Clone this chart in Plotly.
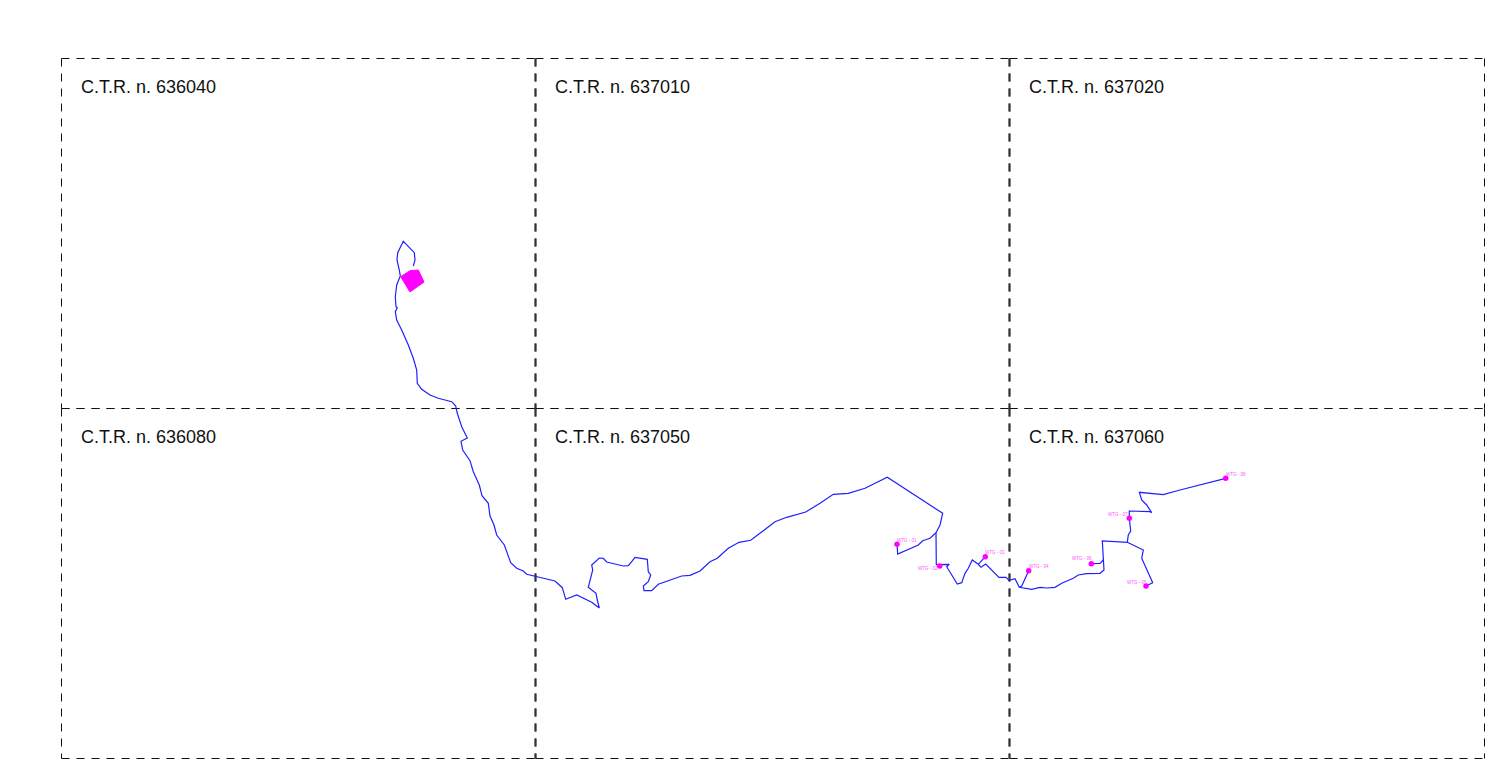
import plotly.graph_objects as go

# All coordinates are map units (sheet grid of the C.T.R. map)
grid_x = [61.5, 535.5, 1009.5, 1484.5]
grid_y = [58.5, 408.5, 758.5]
sheet_names = [["636040", "637010", "637020"], ["636080", "637050", "637060"]]

main_x = [413.3, 415, 414.3, 409.3, 403.3, 397.7, 397, 399.3, 400.3, 396.7, 395.3, 396, 397.3, 395.3, 396.7, 401.7, 408.3, 413.3, 416.7, 417.3, 421.7, 430, 438.3, 451.7, 455.7,
          457.3, 461.7, 467.3, 461, 462.7, 470, 473.3, 479.3, 482, 488.3, 490, 494, 496.7, 504.3, 510.7, 516.7, 523.3, 526.7, 555, 562.3, 565.7, 576.7, 591.7, 596.7, 599.3, 597.3, 596, 588.3, 592.7, 591.7, 599.3, 603.3, 606.7, 623.3, 628.3, 631.7, 635, 647.3, 648.3, 650.7, 648.3, 643.3, 644, 651.7, 658.3,
          681.7, 690, 700, 710, 717.3, 728.3, 739, 750.7, 763.3, 775, 786.7, 805.7, 820, 833.3, 848.3, 865, 887.3, 942.7, 940, 936]
main_y = [266, 260, 252.7, 247.3, 241.3, 252.7, 260, 270, 276, 285, 296.7, 306.7, 307.7, 311.7, 320, 330, 345, 358.3, 370, 383.3, 389.3, 395, 398.3, 401.7, 406,
          413.3, 426.7, 438, 441.3, 450, 460.7, 471.7, 485, 495.7, 503.3, 516, 525, 535, 545, 562.7, 568.3, 571, 574.3, 581, 587.7, 599.3, 595, 602.3, 606, 608, 600, 593.3, 587.3, 570, 565, 558, 558.3, 562, 566, 565.7, 561.7, 557.3, 559.3, 571.7, 575, 581.7, 586, 590.7, 590.7, 584.3,
          576, 575.3, 571, 561.7, 558.3, 548.3, 542.3, 540.3, 530.7, 521.7, 517.3, 512, 503.3, 494.3, 493.3, 488.3, 477.3, 513.3, 525, 532.7]

branch01_x = [936, 930, 922.7, 918.3, 897.7, 897]
branch01_y = [532.7, 538.3, 540.7, 545, 554, 544.3]

east_x = [936, 936.3, 949.3, 946.7, 957.3, 961.7, 965, 968.3, 972.3, 978.3, 981, 985.7, 999, 1006, 1009, 1015, 1019.3, 1031.7, 1040, 1046.7, 1055, 1061.7, 1073.3, 1078.3, 1086.7, 1100, 1104, 1103.3, 1102.3, 1127.3, 1128.3, 1130.7, 1129.3, 1129.3, 1150, 1151.7, 1146.7, 1141.7, 1139.3, 1163.3, 1180, 1225.7]
east_y = [532.7, 564.7, 564.3, 566.7, 584, 582.7, 573.3, 568.3, 560, 564.3, 567.3, 564, 577.3, 577.3, 580.3, 578.7, 587.3, 589.3, 587.3, 588, 587.3, 583.3, 578.3, 575, 573.7, 573.3, 570, 560, 541, 542.3, 535, 531, 518.3, 511, 511.7, 512.7, 505, 500, 492.3, 494.7, 490, 478.3]

branch03_x = [978.3, 985.3]
branch03_y = [564.3, 556.7]
branch04_x = [1019.3, 1021.7, 1028.7]
branch04_y = [587.3, 586, 570.7]
branch05_x = [1127.3, 1143.3, 1141.7, 1146.7, 1152.7, 1146]
branch05_y = [542.3, 550, 558.3, 570, 582.7, 586]
branch06_x = [1103.3, 1100, 1091.3]
branch06_y = [560, 563.3, 563.7]

station_x = [400.7, 410, 418.3, 424, 410]
station_y = [276.7, 270.7, 270, 282, 292]

wtg_names = ["WTG - 01", "WTG - 02", "WTG - 03", "WTG - 04", "WTG - 05", "WTG - 06", "WTG - 07", "WTG - 08"]
wtg_x = [897, 939.7, 985.3, 1028.7, 1146, 1091.3, 1129.3, 1225.7]
wtg_y = [544.3, 566, 556.7, 570.7, 586, 563.7, 518.3, 478.3]
wtg_label_x = [897, 918, 985, 1029, 1127, 1072, 1108, 1226]
wtg_label_y = [540, 568, 552, 566, 582, 558, 514, 474]

BLUE = "#1f1fff"
MAGENTA = "#ff00ff"
GRID = "#111111"
fig = go.Figure()

# Each map sheet is outlined on its own, so the dashes restart at every corner
for r in range(len(grid_y) - 1):
    for c in range(len(grid_x) - 1):
        x0, x1 = grid_x[c], grid_x[c + 1]
        y0, y1 = grid_y[r], grid_y[r + 1]
        for ys in ([y0, y0], [y1, y1]):
            fig.add_trace(go.Scatter(x=[x0, x1], y=ys, mode="lines",
                                     line=dict(color=GRID, width=1, dash="8px,7px"), hoverinfo="skip"))
        for xs, inner in (([x0, x0], c > 0), ([x1, x1], c < len(grid_x) - 2)):
            fig.add_trace(go.Scatter(x=xs, y=[y0, y1], mode="lines",
                                     line=dict(color="#333333" if inner else GRID, width=1.8 if inner else 1,
                                               dash="8px,7px"), hoverinfo="skip"))

for xs, ys in [(main_x, main_y), (branch01_x, branch01_y), (east_x, east_y), (branch03_x, branch03_y),
               (branch04_x, branch04_y), (branch05_x, branch05_y), (branch06_x, branch06_y)]:
    fig.add_trace(go.Scatter(x=xs, y=ys, mode="lines", line=dict(color=BLUE, width=1.2)))

fig.add_trace(go.Scatter(x=station_x + station_x[:1], y=station_y + station_y[:1], mode="lines", fill="toself",
                         fillcolor=MAGENTA, line=dict(color=MAGENTA, width=1)))
fig.add_trace(go.Scatter(x=wtg_x, y=wtg_y, mode="markers", marker=dict(color=MAGENTA, size=5.5)))

for r, row in enumerate(sheet_names):
    for c, name in enumerate(row):
        fig.add_annotation(x=grid_x[c] + 17.5, y=grid_y[r] + 28.3, text=f"C.T.R. n. {name}", showarrow=False,
                           xanchor="left", yanchor="middle",
                           font=dict(family="Liberation Sans", size=18, color="#111111"))

for name, lx, ly in zip(wtg_names, wtg_label_x, wtg_label_y):
    fig.add_annotation(x=lx - 2, y=ly, text=name, showarrow=False, xanchor="left", yanchor="middle",
                       font=dict(family="Liberation Sans", size=4.5, color="#ff55ff"))

fig.update_layout(width=1485, height=764, margin=dict(l=0, r=0, t=0, b=0), showlegend=False,
                  paper_bgcolor="white", plot_bgcolor="white",
                  xaxis=dict(range=[0, 1485], visible=False),
                  yaxis=dict(range=[764, 0], visible=False))
fig.write_html("out.html", post_script="document.body.style.margin='0';", config={"displayModeBar": False})
